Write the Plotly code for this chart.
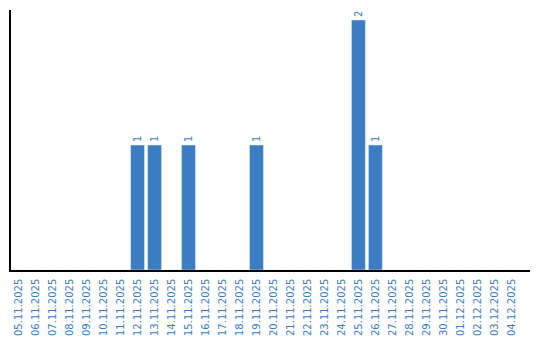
import plotly.graph_objects as go

dates = ["05.11.2025", "06.11.2025", "07.11.2025", "08.11.2025", "09.11.2025",
         "10.11.2025", "11.11.2025", "12.11.2025", "13.11.2025", "14.11.2025",
         "15.11.2025", "16.11.2025", "17.11.2025", "18.11.2025", "19.11.2025",
         "20.11.2025", "21.11.2025", "22.11.2025", "23.11.2025", "24.11.2025",
         "25.11.2025", "26.11.2025", "27.11.2025", "28.11.2025", "29.11.2025",
         "30.11.2025", "01.12.2025", "02.12.2025", "03.12.2025", "04.12.2025"]
counts = [0, 0, 0, 0, 0, 0, 0, 1, 1, 0,
          1, 0, 0, 0, 1, 0, 0, 0, 0, 0,
          2, 1, 0, 0, 0, 0, 0, 0, 0, 0]

blue = "#3b7dc4"
labels = [str(v) if v else "" for v in counts]

fig = go.Figure(go.Bar(
    x=list(range(len(dates))), y=counts, marker_color=blue,
    text=labels, textposition="outside", textangle=-90,
    textfont=dict(family="DejaVu Sans", size=10, color=blue),
    cliponaxis=False,
))
fig.update_layout(
    width=540, height=340,
    margin=dict(l=11, r=10, t=10, b=70),
    plot_bgcolor="white", paper_bgcolor="white",
    bargap=0.18, showlegend=False,
    xaxis=dict(tickmode="array", tickvals=list(range(len(dates))), ticktext=dates,
               tickangle=-90, range=[-0.45, 30.1], showline=True, linecolor="black",
               linewidth=1.5, showgrid=False, zeroline=False, automargin=False,
               ticks="outside", ticklen=3, tickcolor="rgba(0,0,0,0)",
               tickfont=dict(family="DejaVu Sans", size=10, color=blue)),
    yaxis=dict(range=[0, 2.08], showline=True, linecolor="black", linewidth=1.5,
               showgrid=False, zeroline=False, showticklabels=False, ticks="",
               automargin=False),
)
fig.write_html("out.html")
